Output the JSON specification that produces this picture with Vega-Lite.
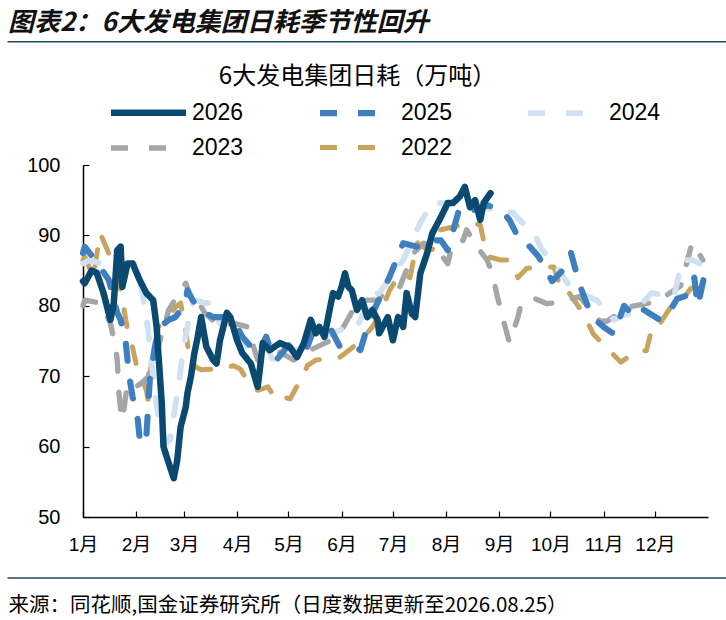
{
  "$schema": "https://vega.github.io/schema/vega-lite/v6.json",
  "description": "6大发电集团日耗季节性",
  "width": 625,
  "height": 352,
  "autosize": {"type": "none"},
  "padding": {"left": 83, "top": 165, "right": 18, "bottom": 103},
  "background": "white",
  "title": {
    "text": "图表2：6大发电集团日耗季节性回升",
    "anchor": "start",
    "frame": "group",
    "font": "Noto Sans CJK SC",
    "fontSize": 26,
    "fontWeight": "bold",
    "fontStyle": "italic",
    "color": "#111111",
    "dx": -75,
    "dy": -1
  },
  "config": {"view": {"stroke": null}},
  "data": {"values": [
    {"s":"2022","d":0,"v":86.5},{"s":"2022","d":1,"v":87},{"s":"2022","d":6,"v":84},{"s":"2022","d":10,"v":90.3},{"s":"2022","d":15,"v":87.5},{"s":"2022","d":18,"v":85.5},{"s":"2022","d":22,"v":82.2},{"s":"2022","d":26,"v":76.6},{"s":"2022","d":28,"v":75.1},{"s":"2022","d":31,"v":71.8},{"s":"2022","d":34,"v":69.9},{"s":"2022","d":37,"v":68},{"s":"2022","d":38,"v":66.6},{"s":"2022","d":40,"v":72.3},{"s":"2022","d":42,"v":74.7},{"s":"2022","d":44,"v":77},{"s":"2022","d":48,"v":78},{"s":"2022","d":54,"v":79.8},{"s":"2022","d":57,"v":80.4},{"s":"2022","d":60,"v":76.6},{"s":"2022","d":62,"v":72.7},{"s":"2022","d":66,"v":71.3},{"s":"2022","d":69,"v":70.9},{"s":"2022","d":76,"v":71},{"s":"2022","d":80,"v":71},{"s":"2022","d":88,"v":71.5},{"s":"2022","d":92,"v":71},{"s":"2022","d":98,"v":68.5},{"s":"2022","d":102,"v":68},{"s":"2022","d":108,"v":68.5},{"s":"2022","d":113,"v":66.6},{"s":"2022","d":117,"v":67},{"s":"2022","d":121,"v":66.8},{"s":"2022","d":125,"v":68.6},{"s":"2022","d":127,"v":69},{"s":"2022","d":131,"v":71.5},{"s":"2022","d":136,"v":72.3},{"s":"2022","d":144,"v":72.5},{"s":"2022","d":149,"v":72.5},{"s":"2022","d":157,"v":74},{"s":"2022","d":162,"v":75},{"s":"2022","d":169,"v":77},{"s":"2022","d":174,"v":79},{"s":"2022","d":179,"v":82.2},{"s":"2022","d":185,"v":84.5},{"s":"2022","d":191,"v":84},{"s":"2022","d":195,"v":89},{"s":"2022","d":201,"v":88},{"s":"2022","d":204,"v":88},{"s":"2022","d":209,"v":90.8},{"s":"2022","d":216,"v":91.2},{"s":"2022","d":226,"v":91.8},{"s":"2022","d":232,"v":91.5},{"s":"2022","d":236,"v":87},{"s":"2022","d":244,"v":86.5},{"s":"2022","d":249,"v":86.5},{"s":"2022","d":254,"v":84},{"s":"2022","d":259,"v":85.3},{"s":"2022","d":265,"v":85.5},{"s":"2022","d":275,"v":85.5},{"s":"2022","d":280,"v":81.8},{"s":"2022","d":284,"v":81.8},{"s":"2022","d":292,"v":79},{"s":"2022","d":296,"v":77},{"s":"2022","d":298,"v":76},{"s":"2022","d":310,"v":73},{"s":"2022","d":314,"v":72},{"s":"2022","d":324,"v":73.6},{"s":"2022","d":329,"v":73.6},{"s":"2022","d":333,"v":77.5},{"s":"2022","d":337,"v":77.5},{"s":"2022","d":345,"v":80.5},{"s":"2022","d":349,"v":80.5},{"s":"2022","d":355,"v":82.5},{"s":"2022","d":360,"v":82.5},{"s":"2022","d":364,"v":82},
    {"s":"2023","d":0,"v":80},{"s":"2023","d":1,"v":80.8},{"s":"2023","d":10,"v":80.4},{"s":"2023","d":13,"v":79},{"s":"2023","d":16,"v":77.5},{"s":"2023","d":19,"v":74.2},{"s":"2023","d":20,"v":72.3},{"s":"2023","d":21,"v":67.6},{"s":"2023","d":22,"v":65.2},{"s":"2023","d":23,"v":63.8},{"s":"2023","d":26,"v":69},{"s":"2023","d":31,"v":68.5},{"s":"2023","d":34,"v":69},{"s":"2023","d":38,"v":69.9},{"s":"2023","d":40,"v":71.8},{"s":"2023","d":44,"v":74.2},{"s":"2023","d":50,"v":79.4},{"s":"2023","d":57,"v":82.2},{"s":"2023","d":60,"v":83.2},{"s":"2023","d":65,"v":79.8},{"s":"2023","d":68,"v":80.4},{"s":"2023","d":71,"v":79},{"s":"2023","d":80,"v":77},{"s":"2023","d":88,"v":77.5},{"s":"2023","d":96,"v":77},{"s":"2023","d":102,"v":72.3},{"s":"2023","d":107,"v":72.7},{"s":"2023","d":115,"v":73.4},{"s":"2023","d":123,"v":72.3},{"s":"2023","d":129,"v":73.3},{"s":"2023","d":137,"v":74.2},{"s":"2023","d":144,"v":75},{"s":"2023","d":150,"v":76.1},{"s":"2023","d":160,"v":80.4},{"s":"2023","d":166,"v":80.8},{"s":"2023","d":172,"v":80.8},{"s":"2023","d":178,"v":82.2},{"s":"2023","d":185,"v":82.7},{"s":"2023","d":193,"v":87.5},{"s":"2023","d":199,"v":88.9},{"s":"2023","d":207,"v":87.9},{"s":"2023","d":213,"v":86},{"s":"2023","d":216,"v":88.9},{"s":"2023","d":222,"v":89.3},{"s":"2023","d":224,"v":90.8},{"s":"2023","d":230,"v":88.4},{"s":"2023","d":236,"v":86.5},{"s":"2023","d":239,"v":84.6},{"s":"2023","d":242,"v":81.3},{"s":"2023","d":245,"v":78.4},{"s":"2023","d":249,"v":74.8},{"s":"2023","d":254,"v":78.4},{"s":"2023","d":256,"v":80.4},{"s":"2023","d":264,"v":81},{"s":"2023","d":271,"v":80.3},{"s":"2023","d":278,"v":80.5},{"s":"2023","d":290,"v":81.3},{"s":"2023","d":302,"v":77.8},{"s":"2023","d":306,"v":77.8},{"s":"2023","d":318,"v":79.8},{"s":"2023","d":335,"v":80.6},{"s":"2023","d":349,"v":82.8},{"s":"2023","d":355,"v":88.3},{"s":"2023","d":356,"v":89},{"s":"2023","d":362,"v":86.5},
    {"s":"2024","d":0,"v":86},{"s":"2024","d":4,"v":86.5},{"s":"2024","d":16,"v":85.5},{"s":"2024","d":30,"v":86},{"s":"2024","d":34,"v":82.7},{"s":"2024","d":38,"v":76.6},{"s":"2024","d":40,"v":72},{"s":"2024","d":43,"v":66},{"s":"2024","d":45,"v":63},{"s":"2024","d":49,"v":60.5},{"s":"2024","d":51,"v":61},{"s":"2024","d":54,"v":66},{"s":"2024","d":56,"v":69},{"s":"2024","d":58,"v":73},{"s":"2024","d":61,"v":77},{"s":"2024","d":63,"v":80},{"s":"2024","d":66,"v":80.8},{"s":"2024","d":71,"v":80.4},{"s":"2024","d":74,"v":80.4},{"s":"2024","d":80,"v":77.5},{"s":"2024","d":84,"v":79},{"s":"2024","d":88,"v":77},{"s":"2024","d":96,"v":74.2},{"s":"2024","d":99,"v":73.3},{"s":"2024","d":103,"v":73.7},{"s":"2024","d":107,"v":74.2},{"s":"2024","d":111,"v":72.3},{"s":"2024","d":121,"v":73.5},{"s":"2024","d":129,"v":74},{"s":"2024","d":137,"v":75.1},{"s":"2024","d":146,"v":76.1},{"s":"2024","d":154,"v":77},{"s":"2024","d":160,"v":77},{"s":"2024","d":166,"v":80},{"s":"2024","d":169,"v":81.8},{"s":"2024","d":173,"v":81.8},{"s":"2024","d":187,"v":86.5},{"s":"2024","d":197,"v":91.8},{"s":"2024","d":204,"v":94.6},{"s":"2024","d":216,"v":94.6},{"s":"2024","d":224,"v":95.5},{"s":"2024","d":232,"v":94},{"s":"2024","d":244,"v":93.6},{"s":"2024","d":251,"v":93.2},{"s":"2024","d":259,"v":91.2},{"s":"2024","d":263,"v":90.5},{"s":"2024","d":268,"v":88},{"s":"2024","d":278,"v":85},{"s":"2024","d":286,"v":82.2},{"s":"2024","d":300,"v":80.8},{"s":"2024","d":310,"v":78},{"s":"2024","d":314,"v":78.5},{"s":"2024","d":321,"v":79},{"s":"2024","d":332,"v":81.8},{"s":"2024","d":345,"v":81.3},{"s":"2024","d":350,"v":86.5},{"s":"2024","d":356,"v":86.5},{"s":"2024","d":360,"v":86},
    {"s":"2025","d":0,"v":87.5},{"s":"2025","d":1,"v":88.4},{"s":"2025","d":8,"v":86.2},{"s":"2025","d":15,"v":83.7},{"s":"2025","d":20,"v":79},{"s":"2025","d":22,"v":78},{"s":"2025","d":25,"v":74.7},{"s":"2025","d":27,"v":70},{"s":"2025","d":29,"v":67},{"s":"2025","d":32,"v":63.8},{"s":"2025","d":33,"v":61.4},{"s":"2025","d":35,"v":62.5},{"s":"2025","d":37,"v":61.4},{"s":"2025","d":39,"v":69.5},{"s":"2025","d":42,"v":74.2},{"s":"2025","d":45,"v":77},{"s":"2025","d":50,"v":78},{"s":"2025","d":54,"v":78.4},{"s":"2025","d":57,"v":79.4},{"s":"2025","d":60,"v":80.8},{"s":"2025","d":61,"v":82.2},{"s":"2025","d":64,"v":80.8},{"s":"2025","d":68,"v":79.4},{"s":"2025","d":76,"v":78.4},{"s":"2025","d":82,"v":78.4},{"s":"2025","d":88,"v":78},{"s":"2025","d":93,"v":75.6},{"s":"2025","d":98,"v":74.2},{"s":"2025","d":103,"v":73.3},{"s":"2025","d":107,"v":75.6},{"s":"2025","d":111,"v":72.7},{"s":"2025","d":113,"v":72.3},{"s":"2025","d":121,"v":74.7},{"s":"2025","d":125,"v":75.1},{"s":"2025","d":131,"v":74.2},{"s":"2025","d":134,"v":76.1},{"s":"2025","d":140,"v":76.6},{"s":"2025","d":144,"v":77},{"s":"2025","d":150,"v":74.2},{"s":"2025","d":158,"v":74.2},{"s":"2025","d":162,"v":73.7},{"s":"2025","d":166,"v":77},{"s":"2025","d":170,"v":79.4},{"s":"2025","d":179,"v":84.1},{"s":"2025","d":187,"v":88.9},{"s":"2025","d":195,"v":88.4},{"s":"2025","d":203,"v":89.3},{"s":"2025","d":209,"v":89.3},{"s":"2025","d":213,"v":87.9},{"s":"2025","d":220,"v":94},{"s":"2025","d":224,"v":93.6},{"s":"2025","d":230,"v":93.6},{"s":"2025","d":236,"v":94.3},{"s":"2025","d":244,"v":93.6},{"s":"2025","d":249,"v":92.2},{"s":"2025","d":255,"v":89.3},{"s":"2025","d":261,"v":88.4},{"s":"2025","d":266,"v":87},{"s":"2025","d":274,"v":83.5},{"s":"2025","d":280,"v":85},{"s":"2025","d":285,"v":87.5},{"s":"2025","d":290,"v":83},{"s":"2025","d":297,"v":78.5},{"s":"2025","d":304,"v":77},{"s":"2025","d":310,"v":76},{"s":"2025","d":316,"v":80},{"s":"2025","d":322,"v":78.5},{"s":"2025","d":327,"v":79.5},{"s":"2025","d":337,"v":78},{"s":"2025","d":342,"v":79},{"s":"2025","d":347,"v":81},{"s":"2025","d":353,"v":81.5},{"s":"2025","d":357,"v":84},{"s":"2025","d":359,"v":80},{"s":"2025","d":364,"v":85.5},
    {"s":"2026","d":0,"v":83.5},{"s":"2026","d":1,"v":83.2},{"s":"2026","d":5,"v":85},{"s":"2026","d":8,"v":84.7},{"s":"2026","d":12,"v":81.8},{"s":"2026","d":16,"v":78},{"s":"2026","d":18,"v":80.4},{"s":"2026","d":20,"v":87.9},{"s":"2026","d":22,"v":88.4},{"s":"2026","d":23,"v":82.7},{"s":"2026","d":26,"v":86},{"s":"2026","d":29,"v":86},{"s":"2026","d":33,"v":83.7},{"s":"2026","d":37,"v":81.8},{"s":"2026","d":41,"v":80.8},{"s":"2026","d":43,"v":77},{"s":"2026","d":44,"v":73.3},{"s":"2026","d":46,"v":66.2},{"s":"2026","d":47,"v":60},{"s":"2026","d":50,"v":57.7},{"s":"2026","d":53,"v":55.5},{"s":"2026","d":55,"v":58},{"s":"2026","d":57,"v":62.8},{"s":"2026","d":60,"v":65.6},{"s":"2026","d":61,"v":67.6},{"s":"2026","d":63,"v":69.9},{"s":"2026","d":65,"v":73.2},{"s":"2026","d":67,"v":75.6},{"s":"2026","d":69,"v":78.4},{"s":"2026","d":72,"v":74.2},{"s":"2026","d":76,"v":72.3},{"s":"2026","d":78,"v":71.8},{"s":"2026","d":80,"v":75.1},{"s":"2026","d":84,"v":79},{"s":"2026","d":86,"v":78.4},{"s":"2026","d":90,"v":75.1},{"s":"2026","d":93,"v":73.3},{"s":"2026","d":98,"v":71.8},{"s":"2026","d":102,"v":68.5},{"s":"2026","d":103,"v":70.4},{"s":"2026","d":105,"v":74.7},{"s":"2026","d":109,"v":73.7},{"s":"2026","d":115,"v":74.7},{"s":"2026","d":121,"v":74.1},{"s":"2026","d":125,"v":72.7},{"s":"2026","d":129,"v":74.7},{"s":"2026","d":133,"v":78},{"s":"2026","d":136,"v":76.1},{"s":"2026","d":138,"v":77},{"s":"2026","d":141,"v":75.6},{"s":"2026","d":144,"v":79.4},{"s":"2026","d":146,"v":81.8},{"s":"2026","d":149,"v":81.3},{"s":"2026","d":151,"v":82.7},{"s":"2026","d":153,"v":84.6},{"s":"2026","d":155,"v":82.7},{"s":"2026","d":157,"v":82.2},{"s":"2026","d":160,"v":79.4},{"s":"2026","d":163,"v":80.8},{"s":"2026","d":166,"v":78.4},{"s":"2026","d":169,"v":79.4},{"s":"2026","d":172,"v":78},{"s":"2026","d":173,"v":76.1},{"s":"2026","d":178,"v":78.4},{"s":"2026","d":181,"v":75.1},{"s":"2026","d":184,"v":78.4},{"s":"2026","d":187,"v":77},{"s":"2026","d":189,"v":81.8},{"s":"2026","d":192,"v":78.9},{"s":"2026","d":194,"v":78.4},{"s":"2026","d":197,"v":84.6},{"s":"2026","d":201,"v":87.5},{"s":"2026","d":204,"v":90.3},{"s":"2026","d":209,"v":92.6},{"s":"2026","d":213,"v":94.6},{"s":"2026","d":216,"v":94.6},{"s":"2026","d":220,"v":95.5},{"s":"2026","d":223,"v":96.9},{"s":"2026","d":226,"v":94},{"s":"2026","d":229,"v":95},{"s":"2026","d":232,"v":92.2},{"s":"2026","d":234,"v":94.6},{"s":"2026","d":238,"v":96}
  ]},
  "layer": [
    {
      "data": {"values": [{}]},
      "mark": {"type": "rule", "color": "#1c4966", "strokeWidth": 1.5},
      "encoding": {
        "x": {"datum": -44.1, "type": "quantitative"},
        "x2": {"datum": 376},
        "y": {"datum": 117.5, "type": "quantitative"}
      }
    },
    {
      "data": {"values": [{}]},
      "mark": {"type": "rule", "color": "#1c4966", "strokeWidth": 1.5},
      "encoding": {
        "x": {"datum": -44.1, "type": "quantitative"},
        "x2": {"datum": 376},
        "y": {"datum": 41.34, "type": "quantitative"}
      }
    },
    {
      "mark": {"type": "line", "strokeCap": "round", "strokeJoin": "round"},
      "encoding": {
        "x": {
          "field": "d",
          "type": "quantitative",
          "scale": {"domain": [0, 365], "nice": false, "zero": false},
          "axis": {
            "values": [0, 31, 59, 90, 120, 151, 181, 212, 243, 273, 304, 334],
            "labelExpr": "(indexof([0,31,59,90,120,151,181,212,243,273,304,334], datum.value) + 1) + '月'",
            "grid": false,
            "tickSize": -6,
            "tickColor": "black",
            "tickWidth": 1.2,
            "domainColor": "black",
            "domainWidth": 1.5,
            "labelFont": "Liberation Sans, Noto Sans CJK SC",
            "labelFontSize": 19,
            "labelColor": "black",
            "labelPadding": 24,
            "labelFlush": false,
            "labelOverlap": false,
            "labelBound": false,
            "title": "来源：同花顺,国金证券研究所（日度数据更新至2026.08.25）",
            "titleX": -75,
            "titleY": 88,
            "titleAlign": "left",
            "titleAnchor": "start",
            "titleBaseline": "middle",
            "titleFont": "Noto Sans CJK SC",
            "titleFontSize": 20.5,
            "titleFontWeight": "normal",
            "titleColor": "black"
          }
        },
        "y": {
          "field": "v",
          "type": "quantitative",
          "scale": {"domain": [50, 100], "nice": false, "zero": false},
          "axis": {
            "values": [50, 60, 70, 80, 90, 100],
            "grid": false,
            "tickSize": -6,
            "tickColor": "black",
            "tickWidth": 1.2,
            "domainColor": "black",
            "domainWidth": 1.5,
            "labelFont": "Liberation Sans",
            "labelFontSize": 20,
            "labelColor": "black",
            "labelPadding": 29,
            "title": "6大发电集团日耗（万吨）",
            "titleAngle": 0,
            "titleX": 274,
            "titleY": -89,
            "titleAlign": "center",
            "titleBaseline": "middle",
            "titleFont": "Noto Sans CJK SC",
            "titleFontSize": 24,
            "titleFontWeight": "normal",
            "titleColor": "black"
          }
        },
        "color": {
          "field": "s",
          "type": "nominal",
          "scale": {
            "domain": ["2026", "2025", "2024", "2023", "2022"],
            "range": ["#0b4a70", "#3f7fbf", "#cfe1f2", "#a6a6a6", "#c8a45f"]
          },
          "legend": {
            "orient": "none",
            "legendX": 47,
            "legendY": -71,
            "direction": "horizontal",
            "columns": 3,
            "title": null,
            "padding": 0,
            "symbolType": "M-2.5,0H2.5",
            "symbolSize": 900,
            "symbolStrokeWidth": 5.5,
            "labelFont": "Liberation Sans",
            "labelFontSize": 23,
            "labelColor": "black",
            "labelOffset": 25,
            "columnPadding": 63,
            "rowPadding": 4
          }
        },
        "strokeDash": {
          "field": "s",
          "type": "nominal",
          "scale": {
            "domain": ["2026", "2025", "2024", "2023", "2022"],
            "range": [[1, 0], [17, 21], [17, 21], [17, 21], [17, 21]]
          }
        },
        "strokeWidth": {
          "field": "s",
          "type": "nominal",
          "legend": null,
          "scale": {
            "domain": ["2026", "2025", "2024", "2023", "2022"],
            "range": [6.5, 5, 5, 5, 5]
          }
        }
      }
    }
  ]
}
